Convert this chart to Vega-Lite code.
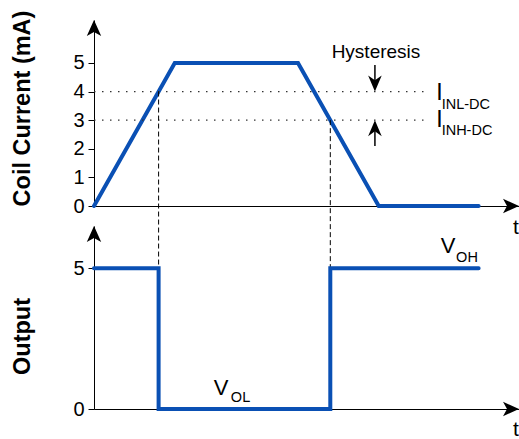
{
  "$schema": "https://vega.github.io/schema/vega-lite/v6.json",
  "padding": {"left": 10, "top": 10, "right": 0, "bottom": 0},
  "background": "white",
  "config": {
    "view": {"stroke": null},
    "font": "Liberation Sans",
    "axis": {"grid": false, "domainColor": "black", "domainWidth": 1, "tickColor": "black", "tickWidth": 1, "tickSize": 6, "labelColor": "black", "labelFontSize": 20, "labelPadding": 4, "labelOverlap": false, "labelFlush": false, "titleColor": "black", "titleFontSize": 23.5, "titleFontWeight": "bold"}
  },
  "spacing": 20,
  "bounds": "flush",
  "vconcat": [
    {
      "width": 425,
      "height": 186,
      "layer": [
        {
          "data": {"values": [
            {"t": 0, "i": 0, "o": 0},
            {"t": 1.9, "i": 5, "o": 1},
            {"t": 4.8, "i": 5, "o": 2},
            {"t": 6.7, "i": 0, "o": 3},
            {"t": 9.05, "i": 0, "o": 4}
          ]},
          "mark": {"type": "line", "color": "#0a50b4", "strokeWidth": 4, "strokeCap": "round"},
          "encoding": {
            "x": {"field": "t", "type": "quantitative", "scale": {"domain": [0, 10], "nice": false, "zero": false}, "axis": {"ticks": false, "labels": false, "title": null}},
            "y": {"field": "i", "type": "quantitative", "scale": {"domain": [0, 6.5], "nice": false}, "axis": {"values": [0, 1, 2, 3, 4, 5], "tickCount": 6, "title": "Coil Current (mA)", "titleX": -60, "titleY": 88}},
            "order": {"field": "o"}
          }
        },
        {
          "data": {"values": [{"y": 4}, {"y": 3}]},
          "mark": {"type": "rule", "color": "#333333", "strokeWidth": 1.2, "strokeDash": [1.5, 6.5]},
          "encoding": {
            "x": {"datum": 0, "type": "quantitative"},
            "x2": {"datum": 7.8},
            "y": {"field": "y", "type": "quantitative"}
          }
        },
        {
          "data": {"values": [{"x": 1.52, "y": 4, "y2": -2.17}, {"x": 5.56, "y": 3, "y2": -2.17}]},
          "mark": {"type": "rule", "color": "black", "strokeWidth": 1, "strokeDash": [5, 3]},
          "encoding": {
            "x": {"field": "x", "type": "quantitative"},
            "y": {"field": "y", "type": "quantitative"},
            "y2": {"field": "y2"}
          }
        },
        {
          "data": {"values": [{"x": 6.61, "y": 4.93, "y2": 4.1}, {"x": 6.61, "y": 2.1, "y2": 2.9}]},
          "mark": {"type": "rule", "color": "black", "strokeWidth": 1.5},
          "encoding": {
            "x": {"field": "x", "type": "quantitative"},
            "y": {"field": "y", "type": "quantitative"},
            "y2": {"field": "y2"}
          }
        },
        {
          "data": {"values": [{"x": 6.61, "y": 4}]},
          "mark": {"type": "point", "filled": true, "color": "black", "opacity": 1, "strokeWidth": 0, "size": 256, "shape": "M0,0 L-0.85,-2 L0,-1.4 L0.85,-2 Z"},
          "encoding": {"x": {"field": "x", "type": "quantitative"}, "y": {"field": "y", "type": "quantitative"}}
        },
        {
          "data": {"values": [{"x": 6.61, "y": 3}]},
          "mark": {"type": "point", "filled": true, "color": "black", "opacity": 1, "strokeWidth": 0, "size": 256, "shape": "M0,0 L-0.85,2 L0,1.4 L0.85,2 Z"},
          "encoding": {"x": {"field": "x", "type": "quantitative"}, "y": {"field": "y", "type": "quantitative"}}
        },
        {
          "data": {"values": [{"x": 0, "y": 6.5}]},
          "mark": {"type": "point", "filled": true, "color": "black", "opacity": 1, "strokeWidth": 0, "size": 256, "shape": "M0,0 L-0.9,2 L0,1.5 L0.9,2 Z"},
          "encoding": {"x": {"field": "x", "type": "quantitative"}, "y": {"field": "y", "type": "quantitative"}}
        },
        {
          "data": {"values": [{"x": 10, "y": 0}]},
          "mark": {"type": "point", "filled": true, "color": "black", "opacity": 1, "strokeWidth": 0, "size": 256, "shape": "M0,0 L-2,-0.9 L-1.5,0 L-2,0.9 Z"},
          "encoding": {"x": {"field": "x", "type": "quantitative"}, "y": {"field": "y", "type": "quantitative"}}
        },
        {
          "data": {"values": [{"x": 6.635, "y": 5.17, "label": "Hysteresis"}]},
          "mark": {"type": "text", "fontSize": 19, "align": "center", "baseline": "alphabetic", "color": "black"},
          "encoding": {"x": {"field": "x", "type": "quantitative"}, "y": {"field": "y", "type": "quantitative"}, "text": {"field": "label"}}
        },
        {
          "data": {"values": [{"x": 8.05, "y": 3.71, "label": "I"}, {"x": 8.05, "y": 2.76, "label": "I"}]},
          "mark": {"type": "text", "fontSize": 23, "align": "left", "baseline": "alphabetic", "color": "black"},
          "encoding": {"x": {"field": "x", "type": "quantitative"}, "y": {"field": "y", "type": "quantitative"}, "text": {"field": "label"}}
        },
        {
          "data": {"values": [{"x": 8.18, "y": 3.39, "label": "INL-DC"}, {"x": 8.18, "y": 2.48, "label": "INH-DC"}]},
          "mark": {"type": "text", "fontSize": 14.5, "align": "left", "baseline": "alphabetic", "color": "black"},
          "encoding": {"x": {"field": "x", "type": "quantitative"}, "y": {"field": "y", "type": "quantitative"}, "text": {"field": "label"}}
        },
        {
          "data": {"values": [{"x": 9.86, "y": -0.98, "label": "t"}]},
          "mark": {"type": "text", "fontSize": 21, "align": "left", "baseline": "alphabetic", "color": "black"},
          "encoding": {"x": {"field": "x", "type": "quantitative"}, "y": {"field": "y", "type": "quantitative"}, "text": {"field": "label"}}
        }
      ]
    },
    {
      "width": 425,
      "height": 183,
      "layer": [
        {
          "data": {"values": [
            {"t": 0, "v": 5, "o": 0},
            {"t": 1.52, "v": 5, "o": 1},
            {"t": 1.52, "v": 0, "o": 2},
            {"t": 5.56, "v": 0, "o": 3},
            {"t": 5.56, "v": 5, "o": 4},
            {"t": 9.05, "v": 5, "o": 5}
          ]},
          "mark": {"type": "line", "color": "#0a50b4", "strokeWidth": 4, "strokeCap": "round", "strokeJoin": "miter"},
          "encoding": {
            "x": {"field": "t", "type": "quantitative", "scale": {"domain": [0, 10], "nice": false, "zero": false}, "axis": {"ticks": false, "labels": false, "title": null}},
            "y": {"field": "v", "type": "quantitative", "scale": {"domain": [0, 6.5], "nice": false}, "axis": {"values": [0, 5], "title": "Output", "titleX": -60, "titleY": 110}},
            "order": {"field": "o"}
          }
        },
        {
          "data": {"values": [{"x": 0, "y": 6.5}]},
          "mark": {"type": "point", "filled": true, "color": "black", "opacity": 1, "strokeWidth": 0, "size": 256, "shape": "M0,0 L-0.9,2 L0,1.5 L0.9,2 Z"},
          "encoding": {"x": {"field": "x", "type": "quantitative"}, "y": {"field": "y", "type": "quantitative"}}
        },
        {
          "data": {"values": [{"x": 10, "y": 0}]},
          "mark": {"type": "point", "filled": true, "color": "black", "opacity": 1, "strokeWidth": 0, "size": 256, "shape": "M0,0 L-2,-0.9 L-1.5,0 L-2,0.9 Z"},
          "encoding": {"x": {"field": "x", "type": "quantitative"}, "y": {"field": "y", "type": "quantitative"}}
        },
        {
          "data": {"values": [{"x": 8.16, "y": 5.53, "label": "V"}, {"x": 2.82, "y": 0.5, "label": "V"}]},
          "mark": {"type": "text", "fontSize": 22, "align": "left", "baseline": "alphabetic", "color": "black"},
          "encoding": {"x": {"field": "x", "type": "quantitative"}, "y": {"field": "y", "type": "quantitative"}, "text": {"field": "label"}}
        },
        {
          "data": {"values": [{"x": 8.52, "y": 5.21, "label": "OH"}, {"x": 3.22, "y": 0.25, "label": "OL"}]},
          "mark": {"type": "text", "fontSize": 14.5, "align": "left", "baseline": "alphabetic", "color": "black"},
          "encoding": {"x": {"field": "x", "type": "quantitative"}, "y": {"field": "y", "type": "quantitative"}, "text": {"field": "label"}}
        },
        {
          "data": {"values": [{"x": 9.86, "y": -0.95, "label": "t"}]},
          "mark": {"type": "text", "fontSize": 21, "align": "left", "baseline": "alphabetic", "color": "black"},
          "encoding": {"x": {"field": "x", "type": "quantitative"}, "y": {"field": "y", "type": "quantitative"}, "text": {"field": "label"}}
        }
      ]
    }
  ]
}
